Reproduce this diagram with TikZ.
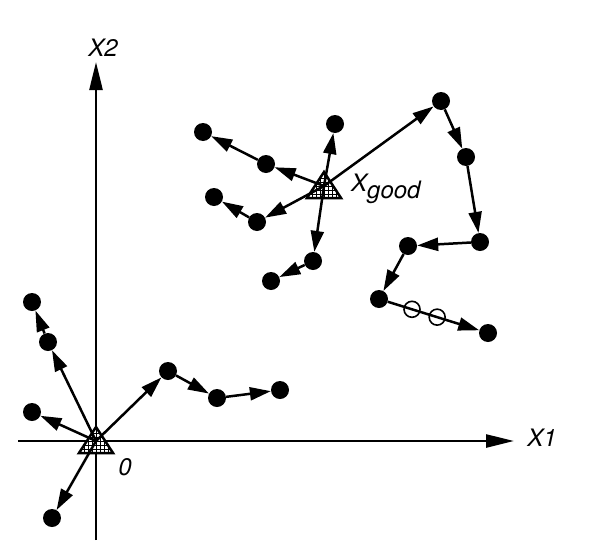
\documentclass[tikz,border=0pt]{standalone}
\usepackage{fontspec}
\setmainfont{TeX Gyre Heros}
\usetikzlibrary{arrows.meta}
\newcommand\hatchtri[1]{%
  \begin{scope}[shift={(#1)}]
    \fill[white] (0,-14) -- (17,12) -- (-17,12) -- cycle;
    \begin{scope}
      \clip (0,-14) -- (17,12) -- (-17,12) -- cycle;
      \foreach \i in {-16,-12,...,16} {\draw[line width=0.9pt] (\i,-15) -- (\i,14);}
      \foreach \j in {-12,-8,...,12} {\draw[line width=0.9pt] (-18,\j) -- (18,\j);}
    \end{scope}
    \draw[line width=2.5pt,line join=miter] (0,-14) -- (17,12) -- (-17,12) -- cycle;
  \end{scope}}
\begin{document}
\begin{tikzpicture}[x=1pt,y=-1pt,
  dot/.style={circle,fill,inner sep=0pt,minimum size=18pt},
  hollow/.style={circle,draw,line width=1.6pt,inner sep=0pt,minimum size=16pt},
  link/.style={line width=2.5pt,-{Triangle[length=21pt,width=13pt]}},
  axis/.style={line width=2.5pt,-{Triangle[length=28pt,width=13pt]}},
  lbl/.style={font=\fontsize{24}{27}\selectfont\itshape,inner sep=0pt}]
\useasboundingbox (0,0) rectangle (597,557);
% axes
\coordinate (xl) at (18,441);
\coordinate (xr) at (514,441);
\coordinate (yb) at (96,540);
\coordinate (yt) at (96,62);
\draw[axis] (xl) -- (xr);
\draw[axis] (yb) -- (yt);
\node[lbl] (lx2) at (103,48) {X2};
\node[lbl] (lx1) at (542,438) {X1};
\node[lbl] (l0) at (125,467) {0};
% origin
\coordinate (O) at (96,441);
\coordinate (Xg) at (324,186);
\hatchtri{O}
\hatchtri{Xg}
\node[lbl,anchor=base west] (lxg) at (351,191) {X\raisebox{-7pt}{good}};
% dots near origin
\node[dot] (d1) at (32,302) {};
\node[dot] (d2) at (48,342) {};
\node[dot] (d3) at (32,412) {};
\node[dot] (d4) at (52,518) {};
\node[dot] (d5) at (168,371) {};
\node[dot] (d6) at (217,398) {};
\node[dot] (d7) at (280,390) {};
% dots near Xgood
\node[dot] (a) at (203,132) {};
\node[dot] (b) at (266,164) {};
\node[dot] (c) at (335,124) {};
\node[dot] (d) at (214,197) {};
\node[dot] (e) at (257,222) {};
\node[dot] (f) at (313,261) {};
\node[dot] (g) at (271,281) {};
\node[dot] (h) at (441,101) {};
\node[dot] (i) at (466,157) {};
\node[dot] (j) at (480,242) {};
\node[dot] (k) at (408,246) {};
\node[dot] (l) at (379,299) {};
\node[dot] (m) at (488,333) {};
\path (l) -- (m) node[hollow,pos=0.265] (h1) {} node[hollow,pos=0.54] (h2) {};
% connectors
\draw[link] (O) -- (d2);
\draw[link] (d2) -- (d1);
\draw[link] (O) -- (d3);
\draw[link] (O) -- (d4);
\draw[link] (O) -- (d5);
\draw[link] (d5) -- (d6);
\draw[link] (d6) -- (d7);
\draw[link] (Xg) -- (b);
\draw[link] (b) -- (a);
\draw[link] (Xg) -- (c);
\draw[link] (Xg) -- (e);
\draw[link] (e) -- (d);
\draw[link] (Xg) -- (f);
\draw[link] (f) -- (g);
\draw[link] (Xg) -- (h);
\draw[link] (h) -- (i);
\draw[link] (i) -- (j);
\draw[link] (j) -- (k);
\draw[link] (k) -- (l);
\draw[link] (l) -- (m);
\end{tikzpicture}
\end{document}
